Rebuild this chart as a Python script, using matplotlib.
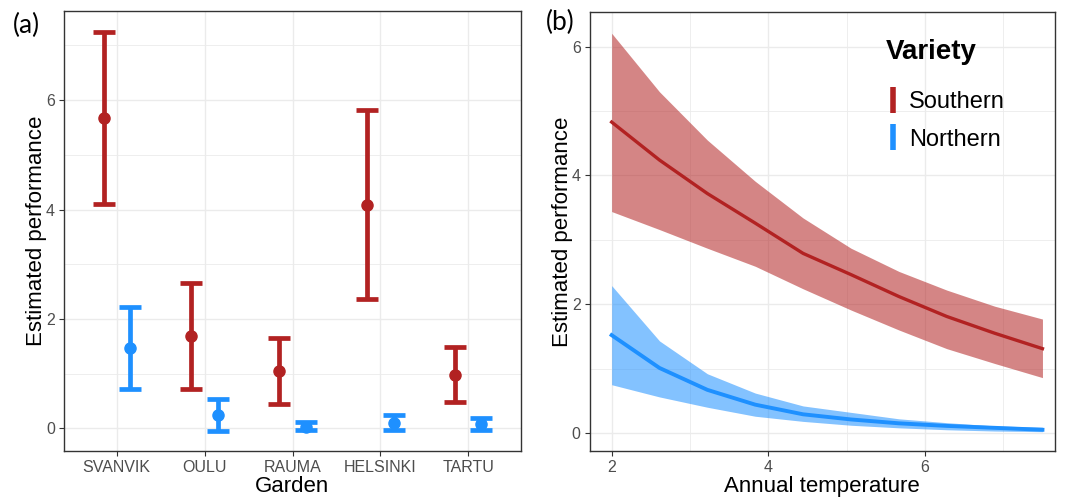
import matplotlib.pyplot as plt
import numpy as np
from matplotlib.lines import Line2D

plt.rcParams["font.family"] = ["Liberation Sans", "DejaVu Sans"]

# -----------------------------
# data, panel (a): estimates per garden
# -----------------------------
gardens = ["SVANVIK", "OULU", "RAUMA", "HELSINKI", "TARTU"]
south_mean = [5.68, 1.68, 1.04, 4.09, 0.98]
south_lo = [4.11, 0.71, 0.44, 2.37, 0.48]
south_hi = [7.25, 2.66, 1.65, 5.82, 1.49]
north_mean = [1.46, 0.24, 0.03, 0.09, 0.07]
north_lo = [0.71, -0.05, -0.04, -0.04, -0.03]
north_hi = [2.22, 0.54, 0.12, 0.24, 0.19]

# -----------------------------
# data, panel (b): fitted curves vs annual temperature
# -----------------------------
temp = [2.0, 2.611, 3.222, 3.833, 4.444, 5.056, 5.667, 6.278, 6.889, 7.5]
south_fit = [4.83, 4.24, 3.72, 3.26, 2.79, 2.46, 2.12, 1.81, 1.55, 1.31]
south_upr = [6.21, 5.30, 4.55, 3.91, 3.34, 2.87, 2.51, 2.22, 1.97, 1.77]
south_lwr = [3.44, 3.16, 2.87, 2.59, 2.24, 1.91, 1.60, 1.31, 1.08, 0.86]
north_fit = [1.52, 1.01, 0.67, 0.44, 0.29, 0.21, 0.15, 0.11, 0.08, 0.05]
north_upr = [2.29, 1.43, 0.92, 0.62, 0.42, 0.32, 0.22, 0.16, 0.11, 0.09]
north_lwr = [0.75, 0.56, 0.40, 0.26, 0.18, 0.12, 0.08, 0.05, 0.03, 0.02]

RED = "#B22222"
BLUE = "#1E90FF"
GRID = "#EBEBEB"


def style_axes(ax):
    ax.grid(which="major", color=GRID, lw=1.0)
    ax.grid(which="minor", color=GRID, lw=0.6)
    ax.set_axisbelow(True)
    for s in ax.spines.values():
        s.set_color("#333333")
        s.set_linewidth(1.0)
    ax.tick_params(which="major", length=3.5, color="#333333",
                   labelcolor="#4D4D4D", labelsize=11.5, pad=3)
    ax.tick_params(which="minor", length=0)


fig = plt.figure(figsize=(10.73, 5.0), dpi=100)

# -----------------------------
# (a) errorbars
# -----------------------------
ax1 = fig.add_axes([64 / 1073, 49 / 500, 457 / 1073, 440 / 500])
x = np.arange(len(gardens))
dodge = 0.15

s_mean = np.array(south_mean)
n_mean = np.array(north_mean)
s_err = [s_mean - np.array(south_lo), np.array(south_hi) - s_mean]
n_err = [n_mean - np.array(north_lo), np.array(north_hi) - n_mean]

ax1.errorbar(x - dodge, s_mean, yerr=s_err, fmt="o", color=RED, ms=8,
             elinewidth=3.4, capsize=8, capthick=3.4)
ax1.errorbar(x + dodge, n_mean, yerr=n_err, fmt="o", color=BLUE, ms=8,
             elinewidth=3.4, capsize=8, capthick=3.4)

ax1.set_xticks(x)
ax1.set_xticklabels(gardens)
ax1.set_xlim(-0.6, 4.6)
ax1.set_ylim(-0.415, 7.63)
ax1.set_yticks([0, 2, 4, 6])
ax1.set_yticks([1, 3, 5, 7], minor=True)
style_axes(ax1)
ax1.set_xlabel("Garden", fontsize=16, labelpad=1)
ax1.set_ylabel("Estimated performance", fontsize=16)
ax1.yaxis.set_label_coords(-0.037, 0.5)

# -----------------------------
# (b) fitted curves with ribbons
# -----------------------------
ax2 = fig.add_axes([589.7 / 1073, 49 / 500, 465.3 / 1073, 439 / 500])
ax2.fill_between(temp, south_lwr, south_upr, color=RED, alpha=0.55, lw=0)
ax2.fill_between(temp, north_lwr, north_upr, color=BLUE, alpha=0.55, lw=0)
ax2.plot(temp, south_fit, color=RED, lw=2.4)
ax2.plot(temp, north_fit, color=BLUE, lw=2.8)

ax2.set_xlim(1.72, 7.66)
ax2.set_ylim(-0.28, 6.54)
ax2.set_xticks([2, 4, 6])
ax2.set_xticks([3, 5, 7], minor=True)
ax2.set_yticks([0, 2, 4, 6])
ax2.set_yticks([1, 3, 5], minor=True)
style_axes(ax2)
ax2.set_xlabel("Annual temperature", fontsize=16, labelpad=1)
ax2.set_ylabel("Estimated performance", fontsize=16)
ax2.yaxis.set_label_coords(-0.036, 0.5)

# legend: title drawn on its own to get the wider gap under it
ax2.text(0.637, 0.909, "Variety", transform=ax2.transAxes, fontsize=20,
         weight="bold", va="center", ha="left")
handles = [
    Line2D([], [], color=RED, marker="|", ls="none", ms=19, mew=4),
    Line2D([], [], color=BLUE, marker="|", ls="none", ms=19, mew=4),
]
ax2.legend(handles, ["Southern", "Northern"], loc="center left",
           bbox_to_anchor=(0.617, 0.752), borderaxespad=0, frameon=False,
           fontsize=17, handlelength=0.6, handletextpad=0.35,
           labelspacing=0.65)

# panel tags
fig.text(13 / 1073, 1 - 25 / 500, "(a)", fontsize=19, va="center",
         family=["Lato", "DejaVu Sans"])
fig.text(546 / 1073, 1 - 22 / 500, "(b)", fontsize=19, va="center",
         family=["Lato", "DejaVu Sans"])

fig.savefig("out.png", dpi=100)
